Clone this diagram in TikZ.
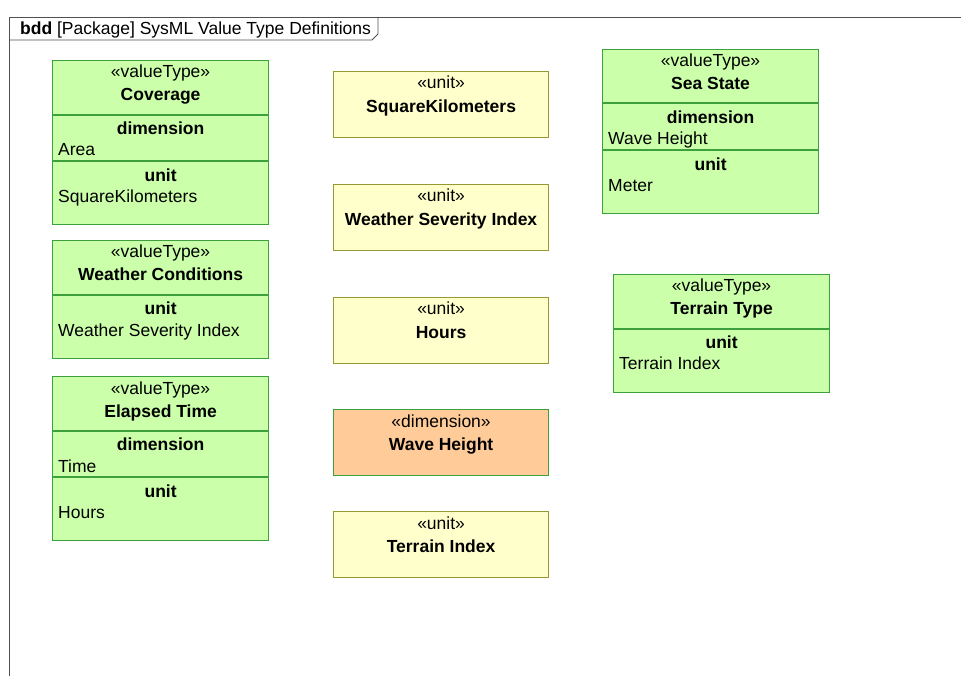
\documentclass[tikz,border=0pt]{standalone}
\usepackage{fontspec}
\setmainfont{Liberation Sans}
\definecolor{vtfill}{RGB}{204,255,170}
\definecolor{vtline}{RGB}{60,160,60}
\definecolor{ufill}{RGB}{255,255,204}
\definecolor{uline}{RGB}{153,153,51}
\definecolor{dfill}{RGB}{255,204,153}
\definecolor{frameline}{RGB}{80,80,80}
\tikzset{
  vt/.style={draw=vtline, fill=vtfill, line width=1.2pt, anchor=north west, inner sep=0pt, minimum width=216pt},
  ut/.style={draw=uline, fill=ufill, line width=1.2pt, anchor=north west, inner sep=0pt, minimum width=215pt, minimum height=66pt},
  dimbox/.style={draw=vtline, fill=dfill, line width=1.2pt, anchor=north west, inner sep=0pt, minimum width=215pt, minimum height=66pt},
  divline/.style={draw=vtline, line width=1.2pt},
  stt/.style={anchor=base, inner sep=0pt, font=\fontsize{17.5}{21}\selectfont},
  nmt/.style={anchor=base, inner sep=0pt, font=\fontsize{17.5}{21}\selectfont\bfseries},
  valt/.style={anchor=base west, inner sep=0pt, font=\fontsize{17.5}{21}\selectfont},
  framel/.style={draw=frameline, line width=0.9pt}
}
\begin{document}
\begin{tikzpicture}[x=1pt,y=-1pt]
\useasboundingbox[fill=white] (0,0) rectangle (961,676);
% frame
\coordinate (fa) at (9,676);
\coordinate (fb) at (9,17);
\coordinate (fc) at (961,17);
\coordinate (ta) at (378,17);
\coordinate (tb) at (378,34);
\coordinate (tc) at (372,40);
\coordinate (td) at (9,40);
\draw[framel] (fa) -- (fb) -- (fc);
\draw[framel] (ta) -- (tb) -- (tc) -- (td);
\node[anchor=base west, inner sep=0pt, font=\fontsize{17.5}{21}\selectfont] (title) at (20,35) {\textbf{bdd} [Package] SysML Value Type Definitions};

% Coverage
\node[vt, minimum height=164pt] (cov) at (52,60) {};
\draw[divline] ([yshift=-55pt]cov.north west) -- ([yshift=-55pt]cov.north east);
\draw[divline] ([yshift=-101pt]cov.north west) -- ([yshift=-101pt]cov.north east);
\node[stt] (covs) at ([yshift=-18pt]cov.north) {«valueType»};
\node[nmt] (covn) at ([yshift=-41pt]cov.north) {Coverage};
\node[nmt] (covd) at ([yshift=-74.5pt]cov.north) {dimension};
\node[valt] (covdv) at ([xshift=6pt,yshift=-96pt]cov.north west) {Area};
\node[nmt] (covu) at ([yshift=-121.5pt]cov.north) {unit};
\node[valt] (covuv) at ([xshift=6pt,yshift=-142.5pt]cov.north west) {SquareKilometers};

% Weather Conditions
\node[vt, minimum height=118pt] (wc) at (52,240) {};
\draw[divline] ([yshift=-55pt]wc.north west) -- ([yshift=-55pt]wc.north east);
\node[stt] (wcs) at ([yshift=-18pt]wc.north) {«valueType»};
\node[nmt] (wcn) at ([yshift=-41pt]wc.north) {Weather Conditions};
\node[nmt] (wcu) at ([yshift=-75pt]wc.north) {unit};
\node[valt] (wcuv) at ([xshift=6pt,yshift=-96pt]wc.north west) {Weather Severity Index};

% Elapsed Time
\node[vt, minimum height=164pt] (et) at (52,376) {};
\draw[divline] ([yshift=-55pt]et.north west) -- ([yshift=-55pt]et.north east);
\draw[divline] ([yshift=-101pt]et.north west) -- ([yshift=-101pt]et.north east);
\node[stt] (ets) at ([yshift=-18pt]et.north) {«valueType»};
\node[nmt] (etn) at ([yshift=-41pt]et.north) {Elapsed Time};
\node[nmt] (etd) at ([yshift=-74.5pt]et.north) {dimension};
\node[valt] (etdv) at ([xshift=6pt,yshift=-96pt]et.north west) {Time};
\node[nmt] (etu) at ([yshift=-121.5pt]et.north) {unit};
\node[valt] (etuv) at ([xshift=6pt,yshift=-142.5pt]et.north west) {Hours};

% Units column
\node[ut] (sqk) at (333,71) {};
\node[stt] (sqks) at ([yshift=-18pt]sqk.north) {«unit»};
\node[nmt] (sqkn) at ([yshift=-41.5pt]sqk.north) {SquareKilometers};

\node[ut] (wsi) at (333,184) {};
\node[stt] (wsis) at ([yshift=-18pt]wsi.north) {«unit»};
\node[nmt] (wsin) at ([yshift=-41.5pt]wsi.north) {Weather Severity Index};

\node[ut] (hrs) at (333,297) {};
\node[stt] (hrss) at ([yshift=-18pt]hrs.north) {«unit»};
\node[nmt] (hrsn) at ([yshift=-41.5pt]hrs.north) {Hours};

\node[dimbox] (wh) at (333,409) {};
\node[stt] (whs) at ([yshift=-18pt]wh.north) {«dimension»};
\node[nmt] (whn) at ([yshift=-41.5pt]wh.north) {Wave Height};

\node[ut] (ti) at (333,511) {};
\node[stt] (tis) at ([yshift=-18pt]ti.north) {«unit»};
\node[nmt] (tin) at ([yshift=-41.5pt]ti.north) {Terrain Index};

% Sea State
\node[vt, minimum height=164pt] (ss) at (602,49) {};
\draw[divline] ([yshift=-54pt]ss.north west) -- ([yshift=-54pt]ss.north east);
\draw[divline] ([yshift=-101pt]ss.north west) -- ([yshift=-101pt]ss.north east);
\node[stt] (sss) at ([yshift=-18pt]ss.north) {«valueType»};
\node[nmt] (ssn) at ([yshift=-41pt]ss.north) {Sea State};
\node[nmt] (ssd) at ([yshift=-74.5pt]ss.north) {dimension};
\node[valt] (ssdv) at ([xshift=6pt,yshift=-95.5pt]ss.north west) {Wave Height};
\node[nmt] (ssu) at ([yshift=-121.5pt]ss.north) {unit};
\node[valt] (ssuv) at ([xshift=6pt,yshift=-142.5pt]ss.north west) {Meter};

% Terrain Type
\node[vt, minimum height=118pt] (tt) at (613,274) {};
\draw[divline] ([yshift=-55pt]tt.north west) -- ([yshift=-55pt]tt.north east);
\node[stt] (tts) at ([yshift=-18pt]tt.north) {«valueType»};
\node[nmt] (ttn) at ([yshift=-41pt]tt.north) {Terrain Type};
\node[nmt] (ttu) at ([yshift=-74.5pt]tt.north) {unit};
\node[valt] (ttuv) at ([xshift=6pt,yshift=-95.5pt]tt.north west) {Terrain Index};
\end{tikzpicture}
\end{document}
